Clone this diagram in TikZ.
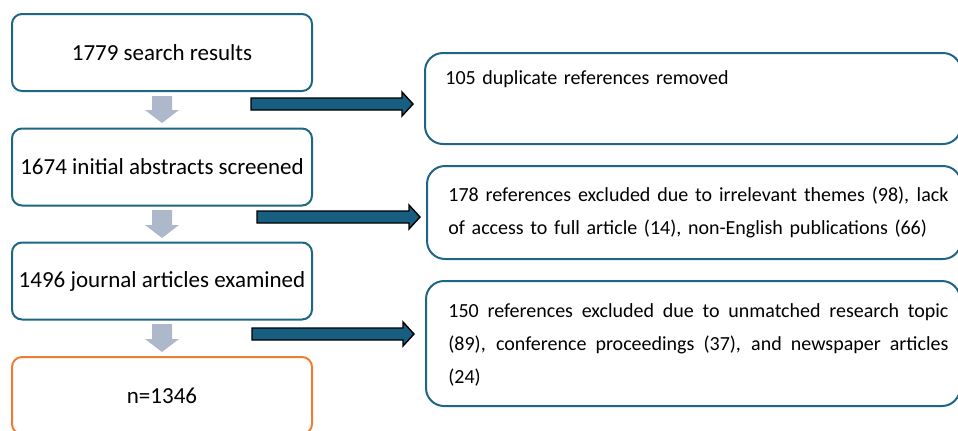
\documentclass[tikz,border=0pt]{standalone}
\usepackage{fontspec}
\setmainfont{Carlito}
\usetikzlibrary{positioning}

\definecolor{boxblue}{HTML}{1F6584}
\definecolor{arrblue}{HTML}{175E80}
\definecolor{arrgray}{HTML}{ADB9CA}
\definecolor{boxorange}{HTML}{ED7D31}

\tikzset{
  lbox/.style={draw=boxblue, line width=1pt, rounded corners=5pt,
    minimum width=150pt, minimum height=38.5pt, align=center, inner sep=0pt},
  rbox/.style={draw=boxblue, line width=1pt, rounded corners=9pt, inner sep=0pt},
  txt/.style={inner sep=0pt, font=\fontsize{11.5}{16.5}\selectfont},
  rtxt/.style={inner sep=0pt, font=\fontsize{10}{16.5}\selectfont,
    text width=250pt, align=left},
}

% gray arrow pointing down: top y, tip y
\newcommand{\grayarrow}[2]{%
  \fill[arrgray] (152,#1) -- (172,#1) -- (172,#2-13) -- (179,#2-13) -- (162,#2)
    -- (145,#2-13) -- (152,#2-13) -- cycle;}
% blue arrow pointing right: start x, tip x, middle y
\newcommand{\bluearrow}[3]{%
  \draw[fill=arrblue, line width=0.7pt, line join=miter] (#1,#3-6) -- (#2-11,#3-6)
    -- (#2-11,#3-12) -- (#2,#3) -- (#2-11,#3+12) -- (#2-11,#3+6) -- (#1,#3+6) -- cycle;}
% one justified line
\newcommand{\jline}[1]{\leavevmode\hbox to 250pt{\spaceskip=\fontdimen2\font plus 1fil\relax #1}}

\begin{document}
\begin{tikzpicture}[x=0.5pt, y=-0.5pt]
  \useasboundingbox (0,0) rectangle (958,430);
  \clip (0,0) rectangle (958,430);

  % left column
  \node[lbox, txt] (S1) at (162,52.5) {1779 search results};
  \node[lbox, txt] (S2) at (162,167) {1674 initial abstracts screened};
  \node[lbox, txt] (S3) at (162,281) {1496 journal articles examined};
  \node[lbox, txt, draw=boxorange] (N) at (162,395.5) {n=1346};

  \grayarrow{96}{123}
  \grayarrow{210}{238}
  \grayarrow{324}{352}

  % right column
  \node[rbox, minimum width=268pt, minimum height=45.5pt, anchor=north west] (R1) at (424,52) {};
  \node[rtxt, anchor=west] (T1) at (445,79) {105 duplicate references removed};

  \node[rbox, minimum width=267pt, minimum height=46.5pt, anchor=north west] (R2) at (426,165) {};
  \node[rtxt, anchor=west] (T2) at (448,212)
    {\jline{178 references excluded due to irrelevant themes (98), lack}\\
     of access to full article (14), non-English publications (66)};

  \node[rbox, minimum width=267pt, minimum height=62.5pt, anchor=north west] (R3) at (425,280) {};
  \node[rtxt, anchor=west] (T3) at (448,345)
    {\jline{150 references excluded due to unmatched research topic}\\
     \jline{(89), conference proceedings (37), and newspaper articles}\\
     (24)};

  \bluearrow{251}{413}{104}
  \bluearrow{257}{420}{217}
  \bluearrow{252}{414}{334}
\end{tikzpicture}
\end{document}
